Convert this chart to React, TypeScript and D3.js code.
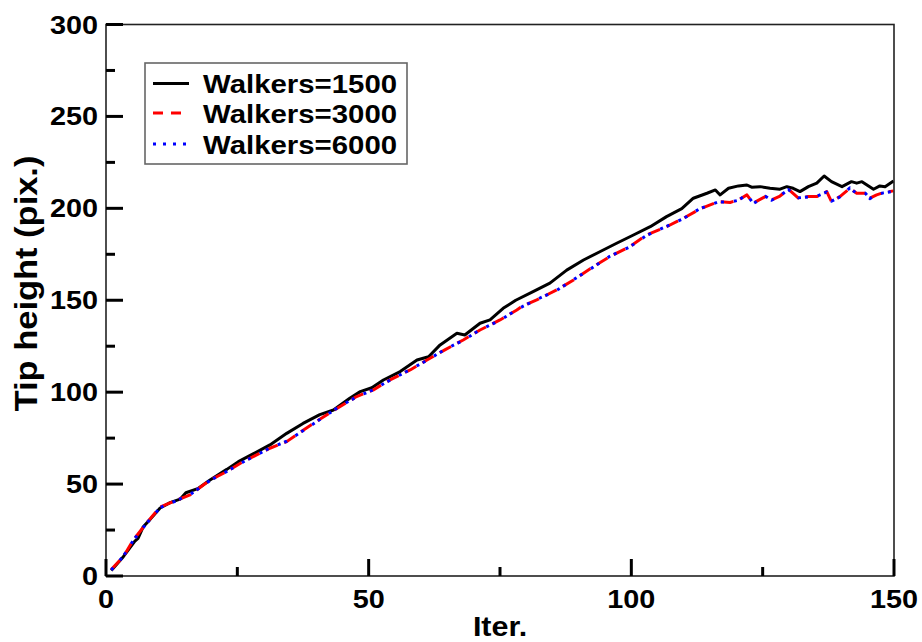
import React from "react";
import * as d3 from "d3";

const xTicksMajor = [0, 50, 100, 150];
const xTicksMinor = [25, 75, 125];
const yTicksMajor = [0, 50, 100, 150, 200, 250, 300];
const yTicksMinor = [25, 75, 125, 175, 225, 275];
const seriesNames = ["Walkers=1500", "Walkers=3000", "Walkers=6000"];

const walkers1500: [number, number][] = [
  [1, 3], [3.3, 10.5], [5.5, 19], [6.1, 20.5], [7.1, 26.8], [8.4, 30.8], [10.3, 37], [12.2, 39.9],
  [14.1, 41.8], [15.2, 45.3], [17.6, 47.7], [19.8, 52.2], [23, 58], [25.2, 62.2], [28, 66.4],
  [31.2, 71.3], [34.4, 77.6], [37.5, 83], [40.7, 87.8], [43.3, 90.3], [46.4, 96.7], [48.4, 100.3],
  [50.6, 102.4], [52.8, 106.6], [56, 111.2], [59.2, 117.5], [61.4, 119.3], [63.6, 125.7],
  [66.8, 132], [68.3, 131.1], [71.2, 137.5], [73.1, 139.3], [75.6, 145.6], [78, 150],
  [81.3, 154.7], [84.5, 159.3], [87.7, 166.4], [90.9, 171.9], [94, 176.4], [97.2, 181],
  [100.4, 185.5], [103.6, 190], [106.7, 195.5], [109.6, 199.8], [111.8, 205.5], [114.4, 208.2],
  [116, 210], [116.9, 207.3], [118.5, 210.9], [120.4, 212.2], [122, 212.7], [122.9, 211.5],
  [124.5, 211.8], [126.4, 210.9], [128.3, 210.4], [129.6, 211.8], [130.8, 210.9], [132.1, 209.1],
  [133.7, 211.8], [135.3, 213.7], [136.7, 217.6], [138.1, 214.5], [140.1, 211.8], [141.9, 214.5],
  [142.9, 213.7], [143.9, 214.5], [146.1, 210.4], [147.3, 212.2], [148.3, 211.8], [149.9, 214.9],
];

const walkers3000: [number, number][] = [
  [1, 3.5], [3.3, 10.5], [5.2, 19.6], [7.7, 28.7], [10.3, 37.5], [13.5, 41.3], [16, 44.1],
  [19.8, 52.2], [23, 56.8], [26.1, 62.2], [31.2, 69.5], [34.4, 73.1], [37.6, 79.4], [40.7, 85.3],
  [44.5, 92.1], [47.7, 97.6], [50.9, 101.2], [53.4, 105.7], [57.9, 112.1], [61.1, 117.5],
  [64.5, 123], [68, 128.4], [71.2, 133.8], [75, 139.3], [78.2, 144.7], [79.1, 146.5],
  [82, 150.2], [85.8, 155.6], [89, 161], [92.8, 168.3], [95.9, 173.7], [99.7, 179.2],
  [102.9, 185.5], [106.7, 190], [109.9, 194.6], [113.1, 199.7], [116.6, 203.7], [118.8, 203.2],
  [120.4, 204.6], [122, 207.3], [123.2, 202.8], [125.5, 206.4], [126.7, 204.6], [128.3, 206.7],
  [129.9, 210.4], [131.8, 205.5], [133.7, 206.4], [135.3, 206.4], [137.2, 209.1], [138.1, 203.7],
  [139.7, 206.4], [141.6, 210.9], [142.9, 208.2], [144.5, 208.2], [145.4, 205.5], [146.7, 207.3],
  [148, 208.6], [149.9, 209.5],
];

const walkers6000: [number, number][] = [
  [1, 3.3], [3.3, 10.8], [5.2, 19.4], [7.7, 28.5], [10.3, 37.2], [13.5, 41.1], [16, 44.3],
  [19.8, 52], [23, 56.9], [26.1, 62], [31.2, 69.6], [34.4, 73.3], [37.6, 79.2], [40.7, 85.1],
  [44.5, 92.3], [47.7, 97.4], [50.9, 101.3], [53.4, 105.5], [57.9, 112.3], [61.1, 117.3],
  [64.5, 123.2], [68, 128.2], [71.2, 133.9], [75, 139.1], [78.2, 144.9], [79.1, 146.3],
  [82, 150.4], [85.8, 155.4], [89, 161.2], [92.8, 168.1], [95.9, 173.9], [99.7, 179],
  [102.9, 185.3], [106.7, 190.2], [109.9, 194.4], [113.1, 199.9], [116.6, 203.5], [118.8, 203.4],
  [120.4, 204.4], [122, 207.5], [123.2, 202.6], [125.5, 206.6], [126.7, 204.4], [128.3, 206.9],
  [129.9, 210.2], [131.8, 205.7], [133.7, 206.2], [135.3, 206.6], [137.2, 208.9], [138.1, 203.9],
  [139.7, 206.2], [141.6, 211.1], [142.9, 208], [144.5, 208.4], [145.4, 205.3], [146.7, 207.5],
  [148, 208.4], [149.9, 209.3],
];

const FONT = "'Liberation Sans', Arial, Helvetica, sans-serif";
const SX = 1.13;

export default function App() {
  const W = 922, H = 642;
  const L = 106, R = 894, T = 24.5, B = 576;
  const x = d3.scaleLinear().domain([0, 150]).range([L, R]);
  const y = d3.scaleLinear().domain([0, 300]).range([B, T]);
  const line = d3.line<[number, number]>().x((d) => x(d[0])).y((d) => y(d[1]));

  const styles = [
    { color: "#000000", dash: undefined as string | undefined, width: 3 },
    { color: "#ff0000", dash: "13,7", width: 3 },
    { color: "#0000ff", dash: "3,10,3,4", width: 3 },
  ];
  const legendDash = [undefined, "10,8", "3,7"];
  const data = [walkers1500, walkers3000, walkers6000];
  const order = [0, 1, 2];

  const legendRows = [83.5, 113, 144];

  return (
    <svg width={W} height={H} style={{ position: "absolute", left: 0, top: 0, background: "#fff" }}
      fontFamily={FONT} fontWeight="bold">
      <defs>
        <clipPath id="plotclip">
          <rect x={L} y={T} width={R - L} height={B - T} />
        </clipPath>
      </defs>
      <rect x={0} y={0} width={W} height={H} fill="#fff" />
      {/* lines */}
      <g clipPath="url(#plotclip)">
        {order.map((i) => (
          <path key={i} d={line(data[i]) || ""} fill="none" stroke={styles[i].color}
            strokeWidth={styles[i].width} strokeDasharray={styles[i].dash}
            strokeLinejoin="round" />
        ))}
      </g>
      {/* frame */}
      <rect x={L} y={T} width={R - L} height={B - T} fill="none" stroke="#222" strokeWidth={1.6} />
      {/* x ticks */}
      {xTicksMajor.map((t) => (
        <line key={"xM" + t} x1={x(t)} x2={x(t)} y1={B} y2={B - 17} stroke="#000" strokeWidth={3} />
      ))}
      {xTicksMinor.map((t) => (
        <line key={"xm" + t} x1={x(t)} x2={x(t)} y1={B} y2={B - 9} stroke="#000" strokeWidth={3} />
      ))}
      {yTicksMajor.map((t) => (
        <line key={"yM" + t} x1={L} x2={L + 17} y1={y(t)} y2={y(t)} stroke="#000" strokeWidth={3} />
      ))}
      {yTicksMinor.map((t) => (
        <line key={"ym" + t} x1={L} x2={L + 9} y1={y(t)} y2={y(t)} stroke="#000" strokeWidth={3} />
      ))}
      {/* tick labels */}
      {xTicksMajor.map((t) => (
        <text key={"xl" + t} transform={`translate(${x(t)},${608}) scale(${SX},1)`} textAnchor="middle"
          fontSize={25.5} fill="#000">{t}</text>
      ))}
      {yTicksMajor.map((t) => (
        <text key={"yl" + t} transform={`translate(${98},${y(t) + 9}) scale(${SX},1)`} textAnchor="end"
          fontSize={25.5} fill="#000">{t}</text>
      ))}
      {/* axis titles */}
      <text transform={`translate(${(L + R) / 2},${636}) scale(${SX},1)`} textAnchor="middle" fontSize={27}
        fill="#000">Iter.</text>
      <text transform={`translate(${37},${283.5}) rotate(-90) scale(${SX},1)`} textAnchor="middle"
        fontSize={30.5} fill="#000">Tip height (pix.)</text>
      {/* legend */}
      <rect x={145} y={63} width={262} height={101} fill="#fff" stroke="#666" strokeWidth={1.6} />
      {seriesNames.map((name, i) => (
        <g key={name}>
          <line x1={153} x2={189} y1={legendRows[i]} y2={legendRows[i]} stroke={styles[i].color}
            strokeWidth={styles[i].width} strokeDasharray={legendDash[i]} />
          <text transform={`translate(${203},${legendRows[i] + 9.5}) scale(${SX},1)`} fontSize={26}
            fill="#000">{name}</text>
        </g>
      ))}
    </svg>
  );
}
